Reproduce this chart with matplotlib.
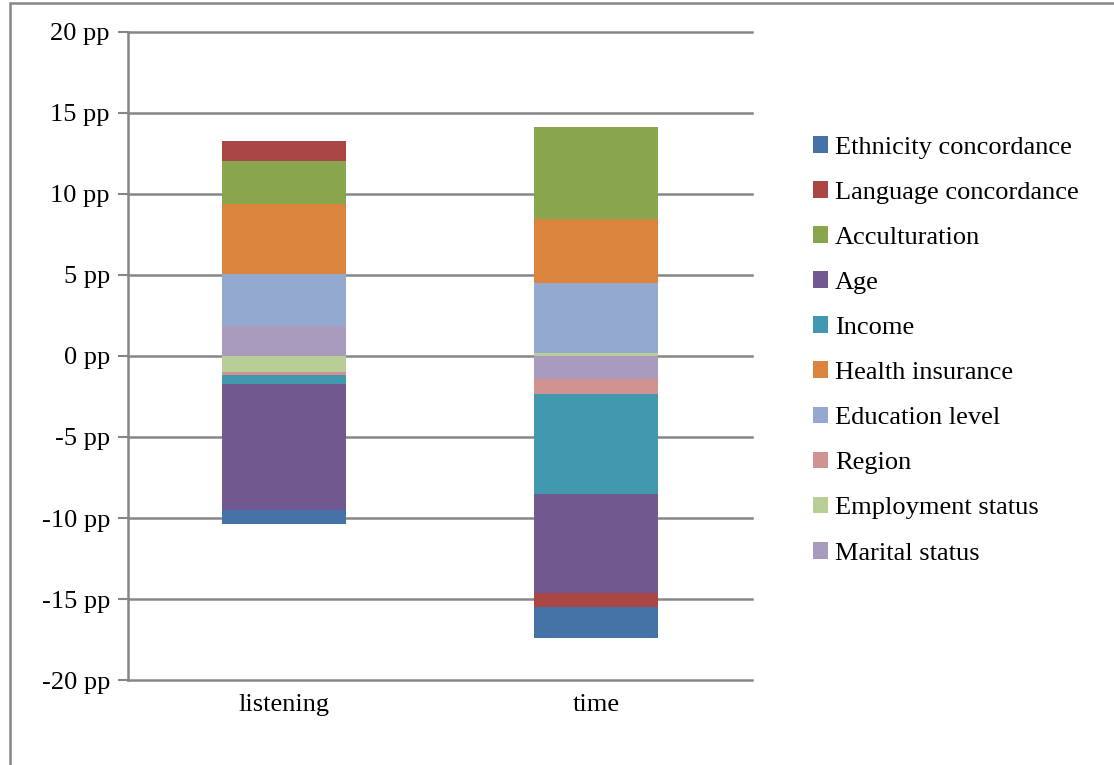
import matplotlib.pyplot as plt
import numpy as np
from matplotlib.patches import Rectangle

categories = ['listening', 'time']

# series in stacking order (first one sits next to zero)
series = ['Marital status', 'Employment status', 'Region', 'Education level',
          'Health insurance', 'Income', 'Age', 'Acculturation',
          'Language concordance', 'Ethnicity concordance']
listening = [1.87, -0.99, -0.18, 3.17, 4.36, -0.58, -7.78, 2.62, 1.25, -0.82]
time_vals = [-1.44, 0.16, -0.93, 4.35, 3.97, -6.17, -6.11, 5.64, -0.87, -1.91]
colors = ['#A99BBD', '#B9CD96', '#D19392', '#93A9CF', '#DB843D',
          '#4198AF', '#71588F', '#89A54E', '#AA4643', '#4572A7']

plt.rcParams['font.family'] = ['Liberation Serif', 'DejaVu Serif']

fig = plt.figure(figsize=(11.14, 7.65), dpi=100)
ax = fig.add_axes([0.1149, 0.1111, 0.5602, 0.8471])

values = np.array([listening, time_vals])  # shape (categories, series)
x = np.arange(len(categories))
pos_base = np.zeros(len(categories))
neg_base = np.zeros(len(categories))
handles = []
for i, name in enumerate(series):
    v = values[:, i]
    bottoms = np.where(v >= 0, pos_base, neg_base)
    bars = ax.bar(x, v, width=0.4, bottom=bottoms, color=colors[i],
                  linewidth=0, label=name, zorder=3)
    handles.append(bars)
    pos_base = pos_base + np.where(v >= 0, v, 0)
    neg_base = neg_base + np.where(v < 0, v, 0)

ax.set_xlim(-0.5, 1.5)
ax.set_ylim(-20, 20)
yticks = np.arange(-20, 21, 5)
ax.set_yticks(yticks)
ax.set_yticklabels([f'{t} pp' for t in yticks], fontsize=19)
ax.set_xticks(x)
ax.set_xticklabels(categories, fontsize=19)
ax.tick_params(axis='x', length=0, pad=10)
ax.tick_params(axis='y', length=7, width=1.5, color='#868686', pad=6)
# gridlines drawn unclipped so the ones at the limits keep full width
for t in yticks:
    ax.axhline(t, color='#868686', linewidth=1.8, zorder=0, clip_on=False)
for side in ['top', 'right', 'bottom']:
    ax.spines[side].set_visible(False)
ax.spines['left'].set_color('#868686')
ax.spines['left'].set_linewidth(1.8)

leg = ax.legend(handles[::-1], series[::-1], loc='upper left',
                bbox_to_anchor=(1.08, 0.856), frameon=False, fontsize=19,
                handlelength=0.6, handleheight=0.6, handletextpad=0.25,
                labelspacing=0.85, borderaxespad=0)

# outer chart frame
fig.patches.append(Rectangle((10 / 1114, -0.05), 1.2, 1.05 - 3 / 765,
                             transform=fig.transFigure, fill=False,
                             edgecolor='#868686', linewidth=1.8))

fig.savefig('out.png', dpi=100)
